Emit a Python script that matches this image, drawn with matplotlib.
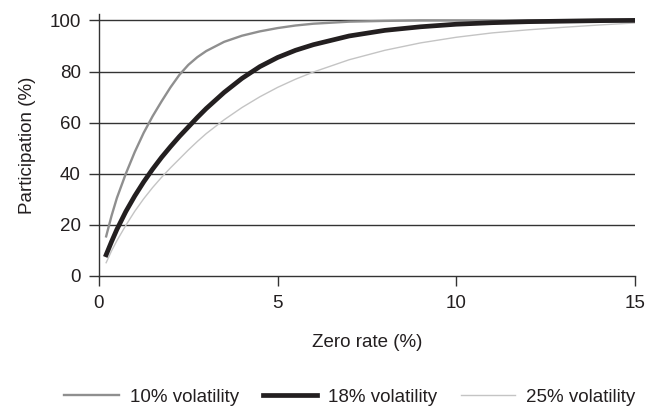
import matplotlib
matplotlib.use("Agg")
import matplotlib.pyplot as plt

plt.rcParams['font.family'] = ['Liberation Sans', 'DejaVu Sans']

# zero rate (%)
zero_rate = [0.2, 0.35, 0.5, 0.75, 1, 1.25, 1.5, 1.75, 2, 2.25, 2.5, 2.75, 3,
             3.5, 4, 4.5, 5, 5.5, 6, 7, 8, 9, 10, 11, 12, 13, 14, 15]

# participation (%) for each volatility
part_10 = [15.5, 23.5, 30.5, 40, 48.5, 56, 62.5, 68.3, 73.8, 78.7, 82.6, 85.6, 88,
           91.6, 94, 95.7, 97, 98, 98.7, 99.5, 99.8, 100, 100, 100, 100, 100, 100, 100]
part_18 = [8.3, 13.4, 18.2, 25.2, 31.3, 36.8, 41.8, 46.4, 50.6, 54.6, 58.3, 62, 65.5,
           71.8, 77.3, 81.9, 85.5, 88.3, 90.5, 93.9, 96.1, 97.5, 98.5, 99.1, 99.5, 99.7, 99.9, 100]
part_25 = [5.2, 9.8, 13.8, 19.8, 25.3, 30.2, 34.6, 38.6, 42.3, 45.8, 49.3, 52.6, 55.7,
           61.1, 65.9, 70.1, 73.8, 77, 79.8, 84.6, 88.3, 91.2, 93.4, 95.1, 96.3, 97.3, 98.2, 99]

labels = ['10% volatility', '18% volatility', '25% volatility']
x_ticks = [0, 5, 10, 15]
y_ticks = [0, 20, 40, 60, 80, 100]

fig = plt.figure(figsize=(6.55, 4.15), dpi=100)
ax = fig.add_axes([99 / 655, 1 - 276 / 415, 536 / 655, 262 / 415])

axc = '#333333'
txt = '#231f20'
for y in y_ticks[1:]:
    ax.axhline(y, color=axc, lw=1.0, zorder=1)

ax.plot(zero_rate, part_10, color='#8f8f8f', lw=1.7, label=labels[0], zorder=3)
ax.plot(zero_rate, part_18, color='#231f20', lw=3.4, label=labels[1], zorder=4)
ax.plot(zero_rate, part_25, color='#c4c4c4', lw=1.0, label=labels[2], zorder=2)

ax.set_xlim(0, 15)
ax.set_ylim(0, 102.5)
ax.set_xticks(x_ticks)
ax.set_yticks(y_ticks)

for s in ['top', 'right']:
    ax.spines[s].set_visible(False)
for s in ['left', 'bottom']:
    ax.spines[s].set_color(axc)
    ax.spines[s].set_linewidth(1.0)
ax.tick_params(axis='both', direction='out', length=7, width=1.0, color=axc,
               labelsize=13.5, labelcolor=txt)
ax.tick_params(axis='x', pad=7)
ax.tick_params(axis='y', pad=6)

ax.set_xlabel('Zero rate (%)', fontsize=13.5, color=txt)
ax.set_ylabel('Participation (%)', fontsize=13.5, color=txt)
ax.xaxis.set_label_coords(0.5, -0.22)
ax.yaxis.set_label_coords(-0.118, 0.5)

fig.legend(loc='center', bbox_to_anchor=(350 / 655, 1 - 397 / 415), ncol=3,
           frameon=False, fontsize=13.5, handlelength=2.9, handletextpad=0.6,
           columnspacing=1.25, labelcolor=txt)

fig.savefig('out.png', dpi=100)
